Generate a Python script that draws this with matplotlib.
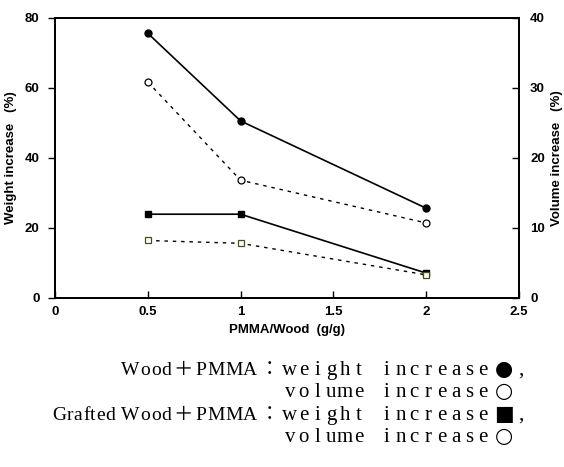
import matplotlib.pyplot as plt

# PMMA loading (g/g)
ratio = [0.5, 1, 2]

# Wood + PMMA
wood_weight = [75.5, 50.5, 25.6]      # weight increase (%)
wood_volume = [30.8, 16.8, 10.7]      # volume increase (%)

# Grafted wood + PMMA
grafted_weight = [23.9, 23.9, 7.1]    # weight increase (%)
grafted_volume = [8.2, 7.8, 3.3]      # volume increase (%)

x_ticks = [0, 0.5, 1, 1.5, 2, 2.5]
x_ticklabels = ['0', '0.5', '1', '1.5', '2', '2.5']

caption_left = ['Wood＋PMMA：', '', 'Grafted Wood＋PMMA：', '']
caption_right = ['weight increase●,', 'volume increase○',
                 'weight increase■,', 'volume increase○']

plt.rcParams['font.family'] = ['Liberation Sans', 'DejaVu Sans']

W, H = 564, 467
fig = plt.figure(figsize=(W / 100, H / 100), dpi=100)
ax = fig.add_axes([55 / W, 1 - 298 / H, 464 / W, 280.5 / H])
ax2 = ax.twinx()

ax.plot(ratio, wood_weight, color='black', lw=1.2, marker='o', ms=5,
        mfc='black', mec='black')
ax.plot(ratio, grafted_weight, color='black', lw=1.2, marker='s', ms=5,
        mfc='black', mec='black')
ax2.plot(ratio, wood_volume, color='black', lw=1.0, ls=(0, (2.5, 3.5)),
         marker='o', ms=5, mfc='white', mec='black', mew=0.9)
ax2.plot(ratio, grafted_volume, color='black', lw=1.0, ls=(0, (2.5, 3.5)),
         marker='s', ms=5, mfc='white', mec='#4a4a1e', mew=0.9)

ax.set_xlim(0, 2.5)
ax.set_ylim(0, 80)
ax2.set_ylim(0, 40)
ax.set_xticks(x_ticks)
ax.set_xticklabels(x_ticklabels)
ax.set_yticks([0, 20, 40, 60, 80])
ax2.set_yticks([0, 10, 20, 30, 40])

for a in (ax, ax2):
    for s in a.spines.values():
        s.set_linewidth(1.3)
ax.tick_params(axis='x', direction='in', length=5, width=1, pad=6)
ax.tick_params(axis='y', direction='out', length=5, width=1, pad=6)
ax2.tick_params(axis='y', direction='in', length=5, width=1, pad=8)
for lbl in ax.get_xticklabels() + ax.get_yticklabels() + ax2.get_yticklabels():
    lbl.set_fontweight('bold')
    lbl.set_fontsize(9.5)

ax.set_xlabel('PMMA/Wood  (g/g)', fontsize=9.5, fontweight='bold', labelpad=4)
ax.set_ylabel('Weight increase   (%)', fontsize=9.5, fontweight='bold', labelpad=6)
ax2.set_ylabel('Volume increase   (%)', fontsize=9.5, fontweight='bold', labelpad=4)

# caption: letter-by-letter layout to get the wide, typewriter-like spacing
renderer = fig.canvas.get_renderer()
serif = ['Liberation Serif', 'DejaVu Serif']
cjk = ['Noto Sans CJK JP', 'DejaVu Sans']
symbols = ['DejaVu Sans']
FS_LEFT, FS_RIGHT = 14, 15
HALF, FULL = 13.8, 27.6
FULL_LEFT = 24
TRACK = 0.6
FULLWIDTH = '＋：'
SHAPES = '●○■'


def fpos(x, y):
    return x / W, 1 - y / H


def char_width(ch):
    if ch in FULLWIDTH:
        return FULL_LEFT
    if ch == ' ':
        return 5 + TRACK
    t = fig.text(0, 0, ch, fontsize=FS_LEFT, family=serif)
    w = t.get_window_extent(renderer).width
    t.remove()
    return w + TRACK


def draw_left(s, x_right, y):
    # proportional serif with slight tracking, right-aligned
    x = x_right - sum(char_width(c) for c in s)
    for ch in s:
        w = char_width(ch)
        if ch in FULLWIDTH:
            fig.text(*fpos(x + w / 2, y), ch, ha='center', va='baseline',
                     fontsize=FS_LEFT, family=cjk)
        elif ch != ' ':
            fig.text(*fpos(x, y), ch, ha='left', va='baseline',
                     fontsize=FS_LEFT, family=serif)
        x += w


def draw_right(s, x, y):
    # fixed-pitch cells, square cells for the marker shapes
    for ch in s:
        w = FULL if ch in SHAPES else HALF
        if ch == ',':
            fig.text(*fpos(x + 1, y), ch, ha='left', va='baseline',
                     fontsize=FS_RIGHT, family=serif)
        elif ch != ' ':
            fig.text(*fpos(x + w / 2, y), ch, ha='center', va='baseline',
                     fontsize=FS_RIGHT if ch in SHAPES else FS_RIGHT,
                     family=symbols if ch in SHAPES else serif)
        x += w


baselines = [375, 397, 420, 442]
for left, right, yb in zip(caption_left, caption_right, baselines):
    if left:
        draw_left(left, 282, yb)
    draw_right(right, 283, yb)

fig.savefig('out.png', dpi=100)
